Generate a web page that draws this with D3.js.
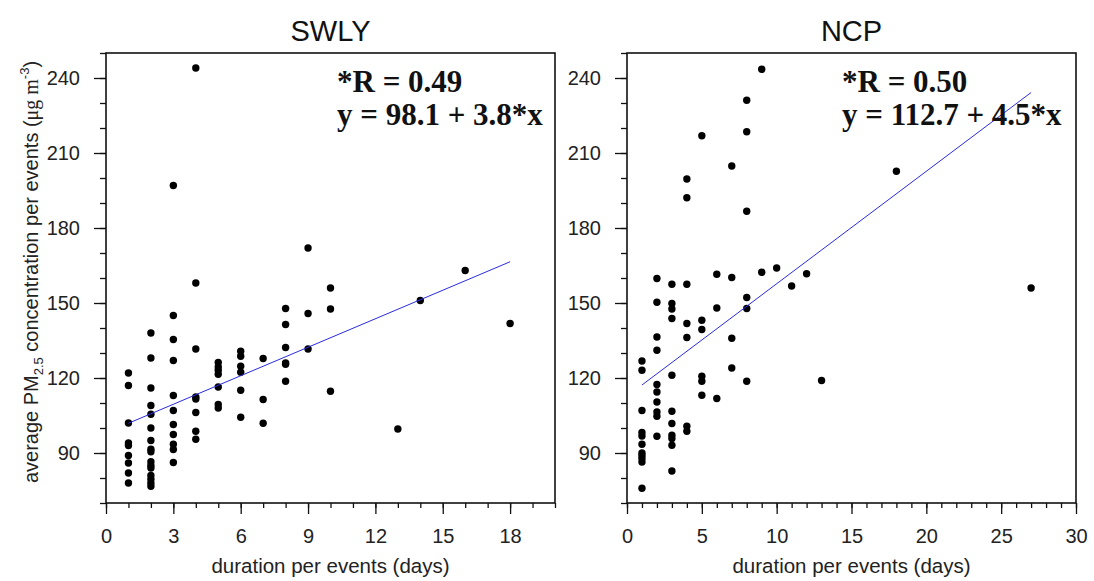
<!DOCTYPE html>
<html>
<head>
<meta charset="utf-8">
<script src="https://cdn.jsdelivr.net/npm/d3@7"></script>
<style>
  body { margin: 0; background: #fff; }
  svg { display: block; }
</style>
</head>
<body>
<svg width="1094" height="581"></svg>
<script>
// panel titles and fit text
const titles = ['SWLY', 'NCP'];
const rText = ['*R = 0.49', '*R = 0.50'];
const eqText = ['y = 98.1 + 3.8*x', 'y = 112.7 + 4.5*x'];
const fitIntercept = [98.1, 112.7];
const fitSlope = [3.8, 4.5];

// SWLY events: duration (days) and mean PM2.5
const swlyDays = [
  1,1,1,1,1,1,1,1,1,
  2,2,2,2,2,2,2,2,2,2,2,2,2,2,2,2,
  3,3,3,3,3,3,3,3,3,3,3,
  4,4,4,4,4,4,4,4,
  5,5,5,5,5,5,5,
  6,6,6,6,6,6,
  7,7,7,
  8,8,8,8,8,8,
  9,9,9,
  10,10,10,
  13,14,16,18
];
const swlyPM = [
  122,117,102,94,93,89,86,82,78,
  138,128,116,109,105.5,100,95,91.5,90.5,86.5,85,84,81,79.5,78,76.7,
  197,145,135.4,127,113,107,101.4,97.4,93.5,91.4,86.2,
  244,158,131.6,112.4,111.6,106.2,98.7,95.5,
  126.2,124.4,123.1,121.5,116.4,109.4,108,
  130.7,128.7,124.7,122.3,115.1,104.3,
  127.8,111.4,101.9,
  147.8,141.4,132.2,126,125.5,118.7,
  172,145.8,131.6,
  156,147.6,114.7,
  99.6,151,163,141.8
];

// NCP events
const ncpDays = [
  1,1,1,1,1,1,1,1,1,1,1,
  2,2,2,2,2,2,2,2,2,2,
  3,3,3,3,3,3,3,3,3,3,3,
  4,4,4,4,4,4,4,
  5,5,5,5,5,5,
  6,6,6,
  7,7,7,7,
  8,8,8,8,8,8,
  9,9,
  10,11,12,13,18,27
];
const ncpPM = [
  126.8,123.1,107,98.2,96.8,93.5,90,89,87.8,86.4,75.9,
  159.8,150.3,136.4,131.1,117.4,114.4,110.4,106.4,104.7,96.7,
  157.5,149.8,147.6,143.8,121.1,106.7,101.8,97.1,95.8,93.1,82.8,
  199.6,192.1,157.5,141.8,136.2,100.7,98.7,
  216.9,143.1,139.4,120.7,118.7,113.1,
  161.5,148,111.8,
  204.8,160.2,135.9,124,
  231.1,218.5,186.7,152.2,147.8,118.7,
  243.5,162.3,
  164,156.8,161.7,119,202.7,156
];

// axis settings
const xMax = [20, 30];
const xMajor = [3, 5];
const yMin = 70, yMax = 250, yMajor = 30, yMinor = 10;

const svg = d3.select('svg');
const plotTop = 53, plotBottom = 503;
const lefts = [106, 627], rights = [555, 1076];
const sans = 'Liberation Sans, Arial, sans-serif';
const serif = 'Liberation Serif, Times New Roman, serif';

const y = d3.scaleLinear().domain([yMin, yMax]).range([plotBottom, plotTop]);

const panels = [
  { days: swlyDays, pm: swlyPM },
  { days: ncpDays, pm: ncpPM }
];

panels.forEach((p, i) => {
  const x = d3.scaleLinear().domain([0, xMax[i]]).range([lefts[i], rights[i]]);
  const g = svg.append('g');

  // frame
  g.append('rect')
    .attr('x', lefts[i]).attr('y', plotTop)
    .attr('width', rights[i] - lefts[i]).attr('height', plotBottom - plotTop)
    .attr('fill', 'none').attr('stroke', '#111').attr('stroke-width', 1.6);

  // x axis: minor every day, major per panel
  const xMinorAxis = d3.axisBottom(x).tickValues(d3.range(0, xMax[i] + 1, 1))
    .tickSize(5).tickFormat('');
  g.append('g').attr('transform', `translate(0,${plotBottom})`).call(xMinorAxis);
  const xAxis = d3.axisBottom(x).tickValues(d3.range(0, xMax[i] + 0.01, xMajor[i]))
    .tickSize(11).tickPadding(15);
  g.append('g').attr('transform', `translate(0,${plotBottom})`).call(xAxis);

  // y axis
  const yMinorAxis = d3.axisLeft(y).tickValues(d3.range(yMin, yMax + 1, yMinor))
    .tickSize(6).tickFormat('');
  g.append('g').attr('transform', `translate(${lefts[i]},0)`).call(yMinorAxis);
  const yAxis = d3.axisLeft(y).tickValues(d3.range(90, yMax, yMajor))
    .tickSize(12).tickPadding(14);
  g.append('g').attr('transform', `translate(${lefts[i]},0)`).call(yAxis);

  g.selectAll('.domain').remove();
  g.selectAll('.tick line').attr('stroke', '#111').attr('stroke-width', 1.3);
  g.selectAll('.tick text')
    .attr('font-family', sans)
    .attr('font-size', 20).attr('fill', '#222');

  // points
  g.selectAll('circle.pt')
    .data(p.days.map((d, k) => [d, p.pm[k]]))
    .join('circle')
    .attr('class', 'pt')
    .attr('cx', d => x(d[0]))
    .attr('cy', d => y(d[1]))
    .attr('r', 3.7)
    .attr('fill', '#000');

  // fit line over data range
  const ext = d3.extent(p.days);
  g.append('line')
    .attr('x1', x(ext[0])).attr('y1', y(fitIntercept[i] + fitSlope[i] * ext[0]))
    .attr('x2', x(ext[1])).attr('y2', y(fitIntercept[i] + fitSlope[i] * ext[1]))
    .attr('stroke', '#2a2ae6').attr('stroke-width', 1);

  // title
  g.append('text')
    .attr('x', (lefts[i] + rights[i]) / 2).attr('y', 41)
    .attr('text-anchor', 'middle')
    .attr('font-family', sans)
    .attr('font-size', 29).attr('fill', '#111')
    .text(titles[i]);

  // fit annotation
  const ax = lefts[i] + (i === 0 ? 231 : 215);
  g.append('text').attr('x', ax).attr('y', 92)
    .attr('font-family', serif)
    .attr('font-weight', 'bold').attr('font-size', 31).attr('fill', '#111')
    .text(rText[i]);
  g.append('text').attr('x', ax).attr('y', 125)
    .attr('font-family', serif)
    .attr('font-weight', 'bold').attr('font-size', 31).attr('fill', '#111')
    .text(eqText[i]);

  // x label
  g.append('text')
    .attr('x', (lefts[i] + rights[i]) / 2).attr('y', 573)
    .attr('text-anchor', 'middle')
    .attr('font-family', sans)
    .attr('font-size', 20.5).attr('fill', '#222')
    .text('duration per events (days)');
});

// y label with sub/superscripts
const yl = svg.append('text')
  .attr('transform', `translate(38,${(plotTop + plotBottom) / 2 - 6}) rotate(-90)`)
  .attr('text-anchor', 'middle')
  .attr('font-family', sans)
  .attr('font-size', 20).attr('fill', '#222');
yl.append('tspan').text('average PM');
yl.append('tspan').attr('font-size', 13).attr('dy', 5).text('2.5');
yl.append('tspan').attr('dy', -5).text(' concentration per events (');
yl.append('tspan').attr('font-family', serif).text('μg m');
yl.append('tspan').attr('font-size', 13).attr('dy', -9).text('-3');
yl.append('tspan').attr('dy', 9).text(')');
</script>
</body>
</html>
